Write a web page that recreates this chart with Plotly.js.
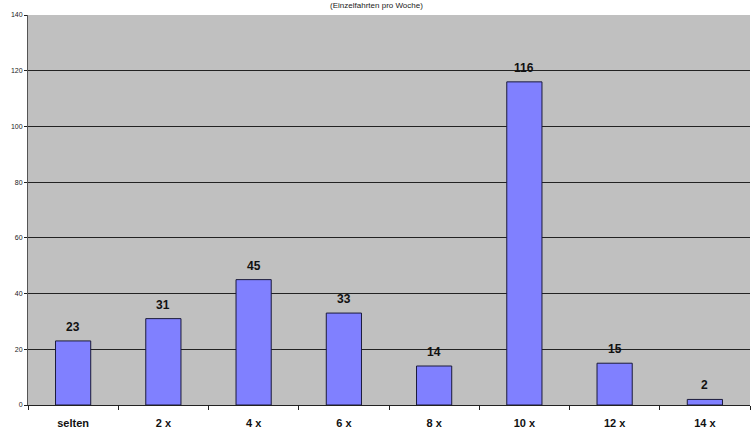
<!DOCTYPE html>
<html>
<head>
<meta charset="utf-8">
<script src="https://cdn.plot.ly/plotly-3.0.1.min.js"></script>
<style>html,body{margin:0;padding:0;background:#fff;}#chart{width:753px;height:428px;}</style>
</head>
<body>
<div id="chart"></div>
<script>
const categories = ["selten", "2 x", "4 x", "6 x", "8 x", "10 x", "12 x", "14 x"];
const values = [23, 31, 45, 33, 14, 116, 15, 2];
const yTicks = [0, 20, 40, 60, 80, 100, 120, 140];
const chartTitle = "(Einzelfahrten pro Woche)";

const trace = {
  type: "bar",
  x: categories,
  y: values,
  width: 0.39,
  marker: {color: "#8080FF", line: {color: "#1a1a3a", width: 1}},
  hoverinfo: "none"
};

const labelAnnotations = categories.map((c, i) => ({
  x: c, y: values[i], xref: "x", yref: "y",
  text: String(values[i]),
  showarrow: false, yanchor: "bottom", yshift: 5,
  font: {family: "Liberation Sans, Arial, sans-serif", size: 12, color: "#111", weight: "bold"}
}));

const layout = {
  width: 753, height: 428,
  margin: {l: 28, r: 3, t: 15, b: 23},
  paper_bgcolor: "#ffffff",
  plot_bgcolor: "#C0C0C0",
  showlegend: false,
  title: {text: chartTitle, x: 0.5, xanchor: "center", y: 0.995, yanchor: "top",
          font: {family: "Liberation Sans, Arial, sans-serif", size: 8, color: "#222"}},
  annotations: labelAnnotations,
  xaxis: {
    type: "category",
    tickfont: {family: "Liberation Sans, Arial, sans-serif", size: 11, color: "#111", weight: "bold"},
    showgrid: false,
    showline: true, linecolor: "#222", linewidth: 1,
    ticks: "outside", ticklen: 4, tickcolor: "#222", tickson: "boundaries",
    ticklabelstandoff: 8,
    fixedrange: true
  },
  yaxis: {
    range: [0, 140],
    tickvals: yTicks,
    ticktext: yTicks.map(String),
    tickfont: {family: "Liberation Sans, Arial, sans-serif", size: 7, color: "#222"},
    showgrid: true, gridcolor: "#222", gridwidth: 1,
    showline: true, linecolor: "#555", linewidth: 1,
    ticks: "outside", ticklen: 3, tickcolor: "#222",
    zeroline: false,
    fixedrange: true
  }
};

Plotly.newPlot("chart", [trace], layout, {displayModeBar: false, staticPlot: true});
</script>
</body>
</html>
